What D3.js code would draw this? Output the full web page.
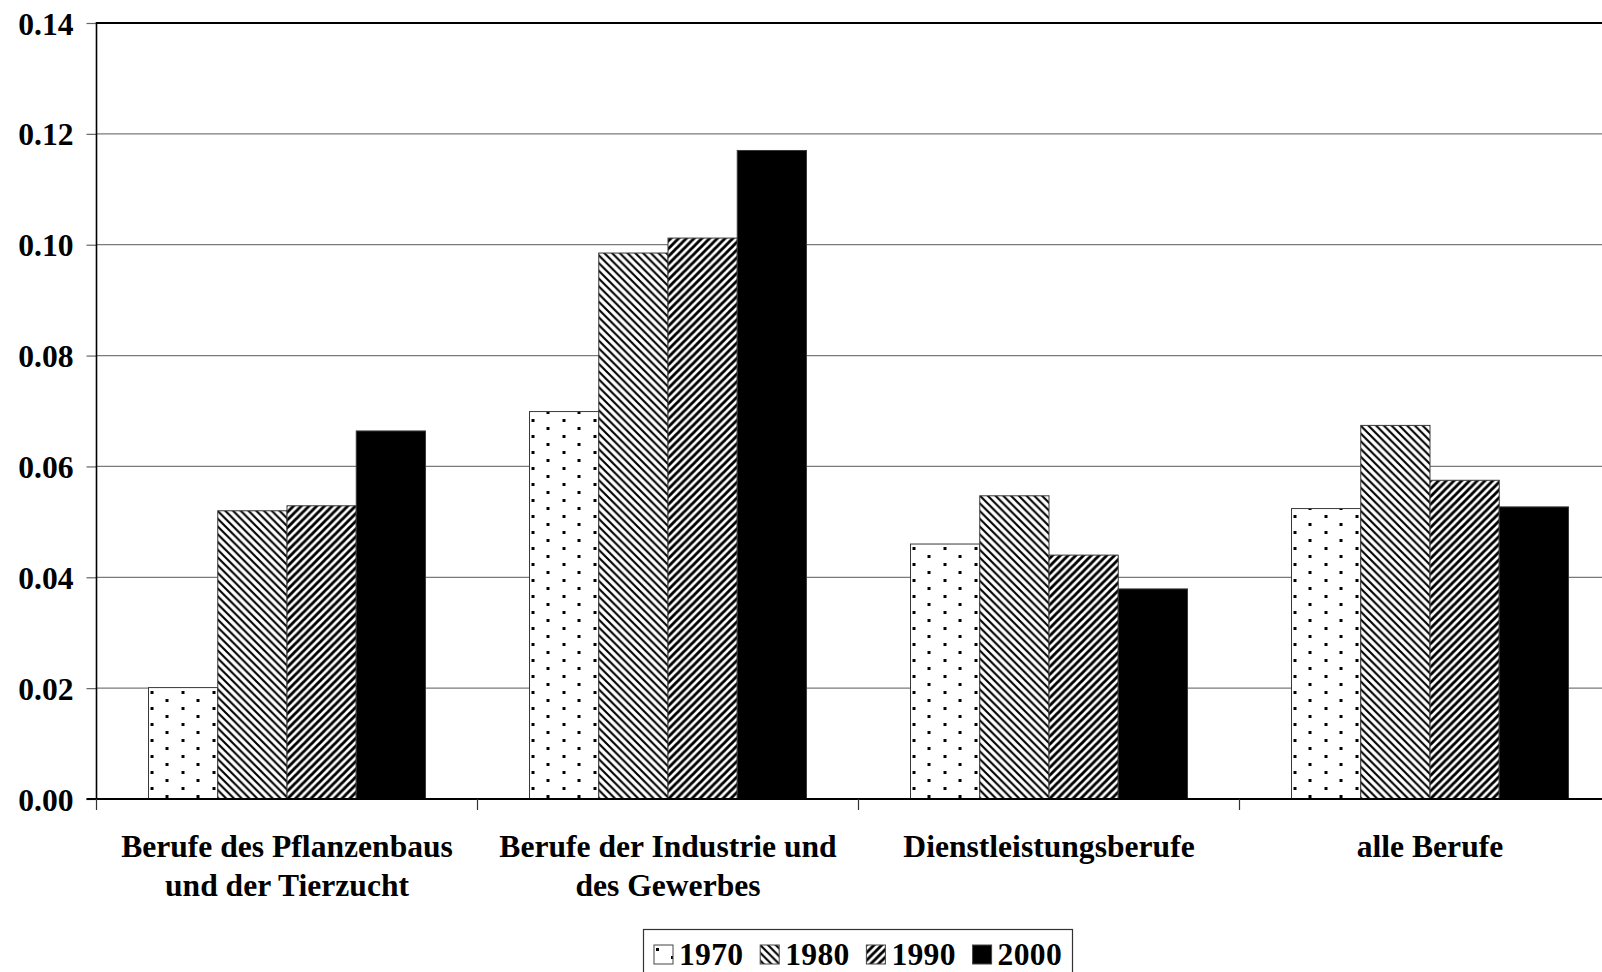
<!DOCTYPE html>
<html>
<head>
<meta charset="utf-8">
<script src="https://cdn.jsdelivr.net/npm/d3@7"></script>
<style>
  html, body { margin: 0; padding: 0; background: #fff; overflow: hidden; }
  svg { display: block; }
  text { font-family: "Liberation Serif", "Times New Roman", serif; font-weight: bold; fill: #000; }
</style>
</head>
<body>
<script>
// ---- data ----
const categories = ["Berufe des Pflanzenbaus\nund der Tierzucht", "Berufe der Industrie und\ndes Gewerbes", "Dienstleistungsberufe", "alle Berufe"];
const series = ["1970", "1980", "1990", "2000"];
const values1970 = [0.0201, 0.0699, 0.0460, 0.0524];
const values1980 = [0.0520, 0.0985, 0.0547, 0.0674];
const values1990 = [0.0529, 0.1012, 0.0440, 0.0575];
const values2000 = [0.0664, 0.1170, 0.0379, 0.0527];
const yTicks = [0, 0.02, 0.04, 0.06, 0.08, 0.10, 0.12, 0.14];

const seriesValues = [values1970, values1980, values1990, values2000];
const W = 1602, H = 972;
const FS = 31.6;

const svg = d3.select("body").append("svg").attr("width", W).attr("height", H);
svg.append("rect").attr("width", W).attr("height", H).attr("fill", "#fff");

// ---- patterns ----
const defs = svg.append("defs");
const pDots = defs.append("pattern").attr("id", "p1970").attr("patternUnits", "userSpaceOnUse")
  .attr("width", 31).attr("height", 16).attr("x", 2).attr("y", 3);
pDots.append("rect").attr("width", 31).attr("height", 16).attr("fill", "#fff");
pDots.append("rect").attr("x", 0).attr("y", 0).attr("width", 3).attr("height", 3).attr("fill", "#000").attr("shape-rendering", "crispEdges");
pDots.append("rect").attr("x", 15).attr("y", 8).attr("width", 3).attr("height", 3).attr("fill", "#000").attr("shape-rendering", "crispEdges");

function diag(id, dir, sw, period) {
  const p = defs.append("pattern").attr("id", id).attr("patternUnits", "userSpaceOnUse")
    .attr("width", period).attr("height", period);
  p.append("rect").attr("width", period).attr("height", period).attr("fill", "#fff");
  const s = period;
  const d = dir === "down"
    ? `M${-s},0 L${s},${2*s} M0,${-s} L${2*s},${s} M${-s},${-s} L${2*s},${2*s}`
    : `M${-s},${s} L${s},${-s} M0,${2*s} L${2*s},0 M${-s},${2*s} L${2*s},${-s}`;
  p.append("path").attr("d", d).attr("stroke", "#000").attr("stroke-width", sw).attr("fill", "none");
}
diag("p1980", "down", 2.1, 7.75);
diag("p1990", "up", 2.9, 7.75);
const fills = ["url(#p1970)", "url(#p1980)", "url(#p1990)", "#000"];

// ---- scales ----
const plotLeft = 96.5, step = 381, plotTop = 23, plotBottom = 799;
const pad = 0.273;
const x0 = d3.scaleBand().domain(categories).range([plotLeft, plotLeft + step * categories.length])
  .paddingInner(pad).paddingOuter(pad / 2);
const x1 = d3.scaleBand().domain(series).range([0, x0.bandwidth()]).padding(0);
const y = d3.scaleLinear().domain([0, 0.14]).range([plotBottom, plotTop]);

// ---- gridlines ----
svg.append("g").selectAll("line").data(yTicks.filter(t => t > 0 && t < 0.14)).join("line")
  .attr("x1", plotLeft).attr("x2", W).attr("y1", d => y(d)).attr("y2", d => y(d))
  .attr("stroke", "#7a7a7a").attr("stroke-width", 1.3);
svg.append("line").attr("x1", plotLeft).attr("x2", W).attr("y1", y(0.14)).attr("y2", y(0.14))
  .attr("stroke", "#000").attr("stroke-width", 2);

// ---- bars ----
const groups = svg.append("g").selectAll("g").data(categories).join("g")
  .attr("transform", d => `translate(${x0(d)},0)`);
groups.selectAll("rect").data((c, ci) => series.map((s, si) => ({ s, si, v: seriesValues[si][ci] }))).join("rect")
  .attr("x", d => x1(d.s)).attr("width", x1.bandwidth())
  .attr("y", d => y(d.v)).attr("height", d => y(0) - y(d.v))
  .attr("fill", d => fills[d.si]).attr("stroke", "#3a3a3a").attr("stroke-width", 1);

// ---- y axis ----
const yAxis = d3.axisLeft(y).tickValues(yTicks).tickSize(10).tickPadding(13).tickFormat(d3.format(".2f"));
const gy = svg.append("g").attr("transform", `translate(${plotLeft},0)`).call(yAxis);
gy.select(".domain").remove();
gy.selectAll(".tick line").attr("stroke", "#666").attr("stroke-width", 1.2);
gy.selectAll(".tick text").attr("font-size", FS).attr("font-family", "Liberation Serif")
  .attr("font-weight", "bold").attr("fill", "#000").attr("dy", "0.35em");
svg.append("line").attr("x1", plotLeft).attr("x2", plotLeft).attr("y1", plotTop - 1).attr("y2", plotBottom)
  .attr("stroke", "#000").attr("stroke-width", 1.6);

// ---- x axis ----
svg.append("line").attr("x1", plotLeft - 10).attr("x2", W).attr("y1", plotBottom).attr("y2", plotBottom)
  .attr("stroke", "#000").attr("stroke-width", 2.2);
const bounds = categories.map(c => x0(c) - x0.step() * pad / 2).concat([plotLeft + step * categories.length]);
svg.append("g").selectAll("line").data(bounds).join("line")
  .attr("x1", d => d).attr("x2", d => d).attr("y1", plotBottom).attr("y2", plotBottom + 11)
  .attr("stroke", "#333").attr("stroke-width", 1.2);

const labels = svg.append("g").selectAll("text").data(categories).join("text")
  .attr("text-anchor", "middle").attr("font-size", FS)
  .attr("x", d => x0(d) + x0.bandwidth() / 2).attr("y", 857);
labels.selectAll("tspan").data(d => d.split("\n")).join("tspan")
  .attr("x", function () { return d3.select(this.parentNode).attr("x"); })
  .attr("dy", (d, i) => i === 0 ? 0 : 38.5).text(d => d);

// ---- legend ----
const lg = svg.append("g");
lg.append("rect").attr("x", 643.5).attr("y", 929.5).attr("width", 429).attr("height", 60)
  .attr("fill", "#fff").attr("stroke", "#333").attr("stroke-width", 1.2);
const items = lg.selectAll("g").data(series).join("g")
  .attr("transform", (d, i) => `translate(${654 + i * 106.2},945)`);
items.append("rect").attr("width", 19).attr("height", 19)
  .attr("fill", (d, i) => fills[i]).attr("stroke", "#444").attr("stroke-width", 1);
items.append("text").attr("x", 25).attr("y", 19.5).attr("font-size", FS).attr("letter-spacing", 0.3).text(d => d);
</script>
</body>
</html>
